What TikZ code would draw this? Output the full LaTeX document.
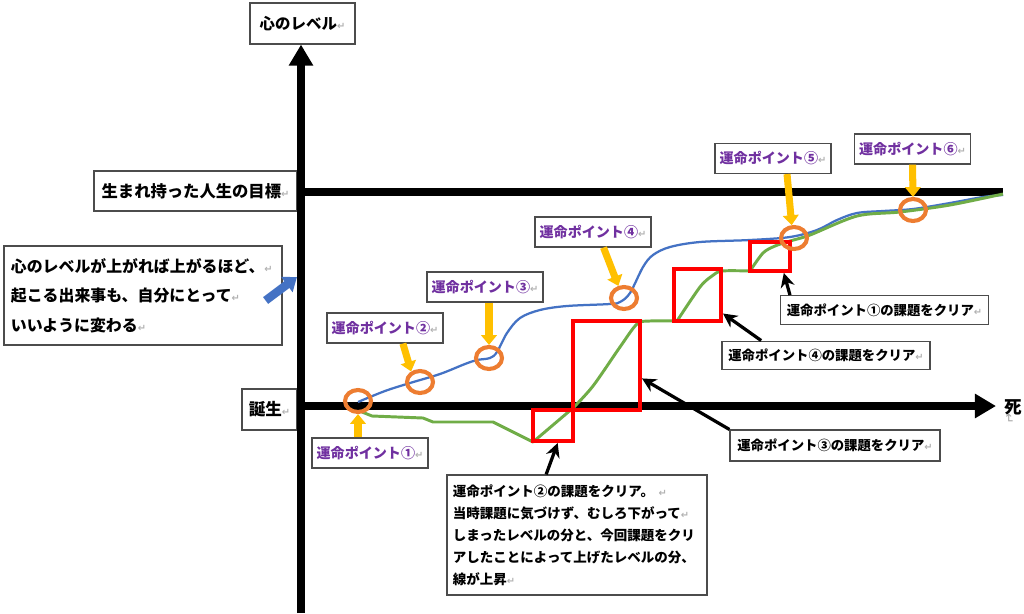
\documentclass[tikz,border=0pt]{standalone}
\usepackage{fontspec}
\setmainfont{Noto Sans CJK JP}
\newfontfamily\symfont{DejaVu Sans}
\usepackage{xcolor}
\usepackage{tikz}
\usetikzlibrary{arrows.meta,positioning,fit,calc,shapes.geometric}

\definecolor{pointpurple}{HTML}{7030A0}
\definecolor{pointgold}{HTML}{FFC000}
\definecolor{spotorange}{HTML}{ED7D31}
\definecolor{lifeblue}{HTML}{4472C4}
\definecolor{lifegreen}{HTML}{70AD47}
\newcommand{\retmark}{{\symfont\fontsize{7}{7}\selectfont\color{black!30}↵}}

\begin{document}
\begin{tikzpicture}[
    x=0.025cm, y=-0.025cm,
    frame/.style={rectangle, draw=black!70, line width=0.8pt, fill=white, inner sep=0pt, font=\bfseries},
    pointlabel/.style={frame, minimum width=2.9cm, minimum height=0.75cm, text=pointpurple, font=\bfseries\fontsize{10}{12}\selectfont},
    callout/.style={frame, minimum width=5.2cm, minimum height=0.72cm, font=\bfseries\fontsize{9.5}{12}\selectfont},
    spot/.style={ellipse, draw=spotorange, line width=2.9pt, minimum width=0.65cm, minimum height=0.55cm, inner sep=0pt},
    clearbox/.style={rectangle, draw=red, line width=2.8pt, inner sep=0pt},
    axis/.style={line width=5.3pt, -{Triangle[width=16.5pt,length=15pt]}},
    goldarrow/.style={pointgold, line width=5pt, -{Triangle[width=11pt,length=7pt]}},
    blackarrow/.style={line width=2.3pt, -{Stealth[width=10pt,length=10pt]}},
    bluearrow/.style={lifeblue, line width=6pt, -{Triangle[width=13pt,length=9pt]}}
]
    \useasboundingbox[fill=white] (0,0) rectangle (1024,613);

    \node[frame, minimum width=2.625cm, minimum height=1.025cm, font=\bfseries\fontsize{11}{13}\selectfont] (ylab) at (302.5,23.5) {心のレベル\retmark};
    \node[frame, minimum width=5.075cm, minimum height=1.0cm, font=\bfseries\fontsize{11.6}{13}\selectfont] (goal) at (195.5,191) {生まれ持った人生の目標\retmark};
    \node[frame, minimum width=1.375cm, minimum height=1.025cm, font=\bfseries\fontsize{11.8}{13}\selectfont] (birth) at (269.5,409.5) {誕生\retmark};
    \node[font=\bfseries\fontsize{12.5}{13}\selectfont, anchor=west, inner sep=0pt] (death) at (1004,407) {死};
    \node[below=3pt of death, inner sep=0pt, rotate=-90, font=\symfont\fontsize{9}{9}\selectfont, text=black!35] (deathmark) {↵};
    \node[frame, text width=6.6cm, inner xsep=0.175cm, minimum height=2.475cm, align=left, font=\bfseries\fontsize{11.3}{21}\selectfont] (note) at (143,295.5)
        {心のレベルが上がれば上がるほど、\retmark\\起こる出来事も、自分にとって\retmark\\いいように変わる\retmark};

    \coordinate (ybase) at (301,613);
    \coordinate (xend) at (996,406);
    \coordinate (goalend) at (1003,192);
    \coordinate (notetip) at (297,277);

    \draw[line width=5.6pt] (goal.east |- goalend) -- (goalend);
    \draw[axis] (ybase) -- (ybase |- ylab.south);
    \draw[axis] (birth.east |- xend) -- (xend);

    \draw[lifeblue, line width=1.6pt] plot[smooth, tension=0.55] coordinates {
        (358,402) (385,391) (410,383) (440,374) (465,364) (477,360) (490,358)
        (497,352) (507,333) (520,318) (540,310) (567,306) (610,304) (620,302)
        (630,293) (643,267) (653,255) (670,247) (700,242) (750,240) (790,237)
        (817,230) (837,220) (857,213) (883,211) (913,209) (950,203) (983,197) (1003,195)};
    \draw[lifegreen, line width=2.1pt, line join=round]
        (362,412) -- (372,416) -- (423,418) -- (433,422) -- (493,422) -- (533,442) -- (573,408)
        -- plot[smooth, tension=0.5] coordinates {(573,408) (593,386) (620,347) (637,324) (650,321) (677,321)}
        -- plot[smooth, tension=0.5] coordinates {(677,321) (700,287) (712,276) (722,271) (750,271)}
        -- plot[smooth, tension=0.5] coordinates {(750,271) (763,253) (775,246) (790,241) (810,235)
            (857,216) (900,212) (950,205) (1003,194)};

    \node[clearbox, fit={(533,410) (573,441)}] (r2) {};
    \node[clearbox, fit={(573,321) (640,410)}] (r3) {};
    \node[clearbox, fit={(674,269) (721,321)}] (r4) {};
    \node[clearbox, fit={(750,242) (790,271)}] (r1) {};

    \node[spot] (e1) at (358,401) {};
    \node[spot] (e2) at (420,382) {};
    \node[spot] (e3) at (489,358) {};
    \node[spot] (e4) at (624,298) {};
    \node[spot] (e5) at (794,238) {};
    \node[spot] (e6) at (913,210) {};

    \node[pointlabel] (l1) at (370,453) {運命ポイント①\retmark};
    \node[pointlabel] (l2) at (385,328) {運命ポイント②\retmark};
    \node[pointlabel] (l3) at (485,287) {運命ポイント③\retmark};
    \node[pointlabel] (l4) at (593,232) {運命ポイント④\retmark};
    \node[pointlabel] (l5) at (773,158.5) {運命ポイント⑤\retmark};
    \node[pointlabel] (l6) at (912.5,149) {運命ポイント⑥\retmark};

    \draw[goldarrow] (e1.south |- l1.north) -- (e1.south);
    \draw[goldarrow] (l2.-41) -- (e2.130);
    \draw[goldarrow] (e3.north |- l3.south) -- (e3.north);
    \draw[goldarrow] (l4.-56) -- (e4.115);
    \draw[goldarrow] (l5.-48) -- (e5.100);
    \draw[goldarrow] (l6.south) -- (e6.north);

    \node[callout] (c1) at (884.5,310) {運命ポイント①の課題をクリア\retmark};
    \node[callout] (c4) at (826,355.5) {運命ポイント④の課題をクリア\retmark};
    \node[callout, minimum width=5.25cm, minimum height=0.775cm] (c3) at (835,445.5) {運命ポイント③の課題をクリア\retmark};
    \node[frame, text width=6.2cm, inner xsep=0.15cm, minimum height=3.0cm, align=left, font=\bfseries\fontsize{9.6}{15.6}\selectfont] (c2) at (577,535)
        {運命ポイント②の課題をクリア。 \retmark\\当時課題に気づけず、むしろ下がって\retmark\\しまったレベルの分と、今回課題をクリ\\アしたことによって上げたレベルの分、\\線が上昇\retmark};

    \draw[blackarrow] (c1.171) -- (r1.-50);
    \draw[blackarrow] (c4.167) -- (r4.-36);
    \draw[blackarrow] (c3.north west) -- (r3.-20);
    \draw[blackarrow] (c2.117) -- (r2.-75);

    \draw[bluearrow] ($(note.east)+(-17,5)$) -- (notetip);
\end{tikzpicture}
\end{document}
